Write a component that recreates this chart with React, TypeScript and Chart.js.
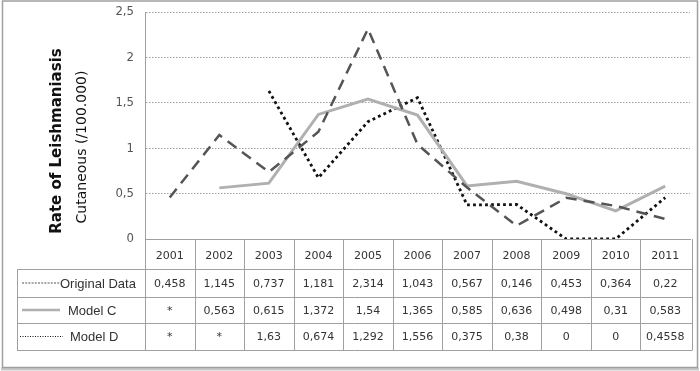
import React, { useEffect, useRef } from "react";
import { Chart, registerables } from "chart.js";

Chart.register(...registerables);

const years = ["2001", "2002", "2003", "2004", "2005", "2006", "2007", "2008", "2009", "2010", "2011"];
const originalData = [0.458, 1.145, 0.737, 1.181, 2.314, 1.043, 0.567, 0.146, 0.453, 0.364, 0.22];
const modelC = [null, 0.563, 0.615, 1.372, 1.54, 1.365, 0.585, 0.636, 0.498, 0.31, 0.583];
const modelD = [null, null, 1.63, 0.674, 1.292, 1.556, 0.375, 0.38, 0, 0, 0.4558];
const tableOriginal = ["0,458", "1,145", "0,737", "1,181", "2,314", "1,043", "0,567", "0,146", "0,453", "0,364", "0,22"];
const tableModelC = ["*", "0,563", "0,615", "1,372", "1,54", "1,365", "0,585", "0,636", "0,498", "0,31", "0,583"];
const tableModelD = ["*", "*", "1,63", "0,674", "1,292", "1,556", "0,375", "0,38", "0", "0", "0,4558"];
const seriesNames = ["Original Data", "Model C", "Model D"];
const yTitle1 = "Rate of Leishmaniasis";
const yTitle2 = "Cutaneous (/100.000)";

const C_ORIG = "#555555";
const C_C = "#b0b0b0";
const C_D = "#111111";
const GRID = "#a0a0a0";

const framePlugin = {
  id: "frame",
  beforeDraw(chart: any) {
    const ctx = chart.ctx;
    ctx.save();
    ctx.fillStyle = "#ffffff";
    ctx.fillRect(0, 0, chart.width, chart.height);
    ctx.strokeStyle = "#c8c8c8";
    ctx.lineWidth = 3;
    ctx.beginPath();
    ctx.moveTo(1, 369);
    ctx.lineTo(699, 369);
    ctx.stroke();
    ctx.strokeStyle = "#a0a0a0";
    ctx.lineWidth = 1.5;
    ctx.strokeRect(2.5, 1, 695, 366.5);
    ctx.restore();
  },
};

const tablePlugin = {
  id: "dataTable",
  afterDraw(chart: any) {
    const ctx = chart.ctx;
    const xs = chart.scales.x;
    const area = chart.chartArea;
    const n = years.length;
    const colW = (area.right - area.left) / n;
    const top = area.bottom;
    const rows = [top, 269, 297, 323, 350];
    const legendLeft = 17;
    ctx.save();
    ctx.strokeStyle = GRID;
    ctx.lineWidth = 1;
    for (let r = 1; r < rows.length; r++) {
      ctx.beginPath();
      ctx.moveTo(legendLeft, rows[r] + 0.5);
      ctx.lineTo(area.right + 2, rows[r] + 0.5);
      ctx.stroke();
    }
    for (let i = 0; i <= n; i++) {
      const x = Math.round(area.left + i * colW) + 0.5 + (i === n ? 2 : 0);
      ctx.beginPath();
      ctx.moveTo(x, top);
      ctx.lineTo(x, rows[4] + 0.5);
      ctx.stroke();
    }
    ctx.beginPath();
    ctx.moveTo(legendLeft + 0.5, rows[1]);
    ctx.lineTo(legendLeft + 0.5, rows[4] + 0.5);
    ctx.stroke();

    ctx.fillStyle = "#333333";
    ctx.textAlign = "center";
    ctx.textBaseline = "middle";
    ctx.font = "11px 'DejaVu Sans'";
    const tables = [tableOriginal, tableModelC, tableModelD];
    for (let i = 0; i < n; i++) {
      const cx = xs.getPixelForValue(i);
      ctx.fillText(years[i], cx, (rows[0] + rows[1]) / 2 + 2);
      for (let r = 0; r < 3; r++) {
        ctx.fillText(tables[r][i], cx, (rows[r + 1] + rows[r + 2]) / 2 + 1);
      }
    }

    ctx.font = "13px 'Liberation Sans', Arial, sans-serif";
    ctx.textAlign = "left";
    const styles = [
      { color: C_ORIG, dash: [2, 1.2], width: 1, x0: 22, x1: 60, tx: 60 },
      { color: C_C, dash: [], width: 2.5, x0: 22, x1: 60, tx: 68 },
      { color: C_D, dash: [1, 1.5], width: 1.2, x0: 20, x1: 63, tx: 70 },
    ];
    for (let r = 0; r < 3; r++) {
      const cy = (rows[r + 1] + rows[r + 2]) / 2;
      const s = styles[r];
      ctx.save();
      ctx.strokeStyle = s.color;
      ctx.lineWidth = s.width;
      ctx.setLineDash(s.dash);
      ctx.beginPath();
      ctx.moveTo(s.x0, cy);
      ctx.lineTo(s.x1, cy);
      ctx.stroke();
      ctx.restore();
      ctx.fillStyle = "#333333";
      ctx.fillText(seriesNames[r], s.tx, cy + 1);
    }

    ctx.fillStyle = "#111111";
    ctx.textAlign = "center";
    ctx.save();
    ctx.translate(57, 141);
    ctx.rotate(-Math.PI / 2);
    ctx.font = "bold 15px 'DejaVu Sans'";
    ctx.fillText(yTitle1, 0, 0);
    ctx.restore();
    ctx.save();
    ctx.translate(82, 147);
    ctx.rotate(-Math.PI / 2);
    ctx.font = "14px 'DejaVu Sans'";
    ctx.fillText(yTitle2, 0, 0);
    ctx.restore();
    ctx.restore();
  },
};

export default function App() {
  const ref = useRef<HTMLCanvasElement | null>(null);
  useEffect(() => {
    if (!ref.current) return;
    const chart = new Chart(ref.current, {
      type: "line",
      data: {
        labels: years,
        datasets: [
          {
            label: seriesNames[0],
            data: originalData,
            borderColor: C_ORIG,
            borderWidth: 2.5,
            borderDash: [11, 7],
            pointRadius: 0,
            tension: 0,
          },
          {
            label: seriesNames[1],
            data: modelC,
            borderColor: C_C,
            borderWidth: 3,
            pointRadius: 0,
            tension: 0,
          },
          {
            label: seriesNames[2],
            data: modelD,
            borderColor: C_D,
            borderWidth: 2.8,
            borderDash: [2.8, 3.2],
            pointRadius: 0,
            tension: 0,
          },
        ],
      },
      options: {
        responsive: false,
        animation: false,
        devicePixelRatio: 1,
        layout: { padding: { left: 0, top: 12, right: 10, bottom: 132 } },
        plugins: { legend: { display: false }, tooltip: { enabled: false } },
        scales: {
          x: {
            offset: true,
            ticks: { display: false },
            grid: { display: false, drawTicks: false },
            border: { display: true, color: GRID, width: 1 },
            afterFit: (s: any) => {
              s.height = 0;
              s.paddingLeft = 0;
              s.paddingRight = 0;
            },
          },
          y: {
            min: 0,
            max: 2.5,
            ticks: {
              stepSize: 0.5,
              padding: 11,
              color: "#555555",
              font: { family: "'DejaVu Sans Condensed', 'DejaVu Sans'", size: 13 },
              callback: (v: any) => String(v).replace(".", ","),
            },
            grid: {
              color: GRID,
              lineWidth: 1,
              drawTicks: false,
              tickLength: 0,
            },
            border: { display: true, color: GRID, width: 1, dash: [1.5, 1.5] },
            afterFit: (s: any) => {
              s.width = 145;
              s.paddingTop = 0;
              s.paddingBottom = 0;
            },
          },
        },
      },
      plugins: [framePlugin, tablePlugin],
    });
    return () => chart.destroy();
  }, []);
  return (
    <div style={{ position: "fixed", left: 0, top: 0, width: 700, height: 371, background: "#fff" }}>
      <canvas ref={ref} width={700} height={371} style={{ display: "block" }} />
    </div>
  );
}
